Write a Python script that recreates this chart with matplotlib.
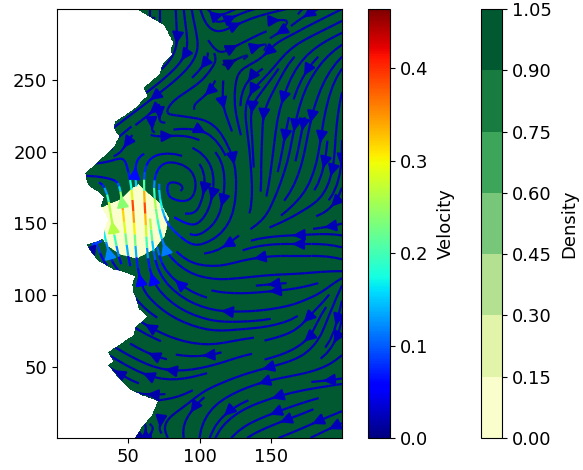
import numpy as np
import matplotlib
matplotlib.use("Agg")
import matplotlib.pyplot as plt
from matplotlib.cm import ScalarMappable
from matplotlib.colors import Normalize
from matplotlib.path import Path

# Velocity field, in hundredths, rows go from y=0 upwards
grid_x = [0, 20, 40, 60, 80, 100, 120, 140, 160, 180, 200]
grid_y = [0, 20, 40, 60, 80, 100, 120, 140, 160, 180, 200, 220, 240, 260, 280, 300]

u_rows = [
    [0, 0, 0, 0.5, 0.8, -0.3, -1.5, -2, -2, -2, -2],
    [0, 0, 0, -1, -1.5, -1.2, -2, -2.5, -2.5, -2.5, -2.5],
    [0, 0, -1.5, -2, -2, -2.5, -2.5, -2.5, -2.5, -2.5, -2.5],
    [0, 0, -2, -2, -2, -2, -2.5, -2.5, -2.5, -1.5, -1],
    [0, 0, -1.5, -2, -2, -2.5, -2.5, -2.5, -2.5, -1, -0.5],
    [0, 0, -1, -1.5, -2.2, -2.5, -2.5, -2.5, -2.5, -2.5, -0.5],
    [0, -1.5, -2, -1, -3, -2.5, -2.5, -2.5, -2.5, -2.5, -2],
    [0, -2, -5, -0.5, -6, -2.5, -2, -2.5, -2.5, -2.5, -2],
    [0, -2, -4, -2, -5, -1, -0.5, -0.3, -1.5, -2, -1],
    [0, -2, -3, 0, 2, 0, 0, 0.2, -1, -1, -0.5],
    [0, -2, -2, 3, 2.5, 2, 1, 0, -0.5, -0.5, 0],
    [0, 0, -2, -2, 2, 2.5, 1, 0, -0.5, -0.5, -0.2],
    [0, 0, 0, -2, -2, -2, 0.3, -1.5, -0.8, -1, -0.5],
    [0, 0, 0, 0, -1.5, -1.5, 0.3, -1.8, -1.2, -1.5, -1.5],
    [0, 0, 0, 0, 0, 0.5, 2, 2, -2, -2, -2],
    [0, 0, 0, 0, 0, 0.5, 2, 2, 2, -2, -2],
]
v_rows = [
    [0, 0, 0, 2, -2, -2.5, -1.8, -1, -0.8, -1, -1],
    [0, 0, 0, -0.5, -0.5, -2, -1.5, -1, -0.9, -1, -1],
    [0, 0, 1, 0.8, 0, -0.8, -1, -0.8, -0.4, -0.2, -0.3],
    [0, 0, 1.2, 1, 0.5, 0, -0.8, -0.5, -1, -1.5, -1.5],
    [0, 0, 1, 1.2, 1, 0.8, 0, -0.2, -0.8, -2.2, -2.5],
    [0, 0, 1, 2, 2, 1, 0.2, -0.2, -0.3, -1, -2.5],
    [0, 0.5, 2, 8, 3, 0.5, -0.5, -0.3, 0, 0, 0.5],
    [0, 0, 25, 30, 7, -1, -2, -0.5, 0, 0, 0.5],
    [0, 0, 30, 44, 2, -2, -2.5, -2, -1.5, -1, -1.5],
    [0, 0, 1, 10, 0, -2, -2.5, -2.5, -2.5, -2.5, -2],
    [0, 0, -1.5, 1, -0.2, -1.5, -2, -2.5, -2.5, -2.5, -2.5],
    [0, 0, -1.5, -1.5, 0.5, -0.2, -2.5, -2.5, -2.5, -2.5, -2.5],
    [0, 0, 0, -1.5, -1.5, -1, -2.5, -1.8, -2.5, -2.5, -2.5],
    [0, 0, 0, 0, -1.5, -2, 0.2, -1, -2, -2, -2],
    [0, 0, 0, 0, -2, -2, 1, 1, -1, -1, -1],
    [0, 0, 0, 0, -2, -2, 1, 0.5, 0.5, -1, -1],
]

# Outline of the density region (left edge, top to bottom)
edge_x = [56, 63, 70, 75, 78, 82, 80, 81, 75, 73, 72, 66, 61, 64, 60, 57, 50, 41, 40, 44, 41, 37, 32, 28, 20,
          22, 28, 33, 31, 36, 33, 33, 21, 25, 29, 40, 48, 55, 53, 54, 56, 58, 64, 58, 55, 54, 44, 36, 40, 36,
          42, 50, 60, 71, 69, 67, 60, 55]
edge_y = [300, 296, 292, 289, 284, 276, 272, 268, 262, 258, 254, 249, 245, 239, 236, 232, 227, 221, 217, 211,
          205, 200, 196, 192, 185, 177, 173, 169, 162, 153, 144, 139, 135, 129, 124, 118, 116, 113, 107, 102,
          96, 90, 85, 80, 77, 72, 65, 60, 53, 51, 44, 35, 30, 26, 21, 16, 8, 0]

# Outline of the low density patch
patch_x = [57, 65, 74, 79, 76, 69, 56, 44, 35, 30, 30, 30, 36, 44, 51]
patch_y = [178, 171, 163, 154, 141, 132, 125, 128, 134, 141, 150, 161, 164, 167, 174]

density_levels = [0.0, 0.15, 0.30, 0.45, 0.60, 0.75, 0.90, 1.05]
velocity_ticks = [0.0, 0.1, 0.2, 0.3, 0.4]

plt.rcParams["font.size"] = 13

u = np.array(u_rows) / 100
v = np.array(v_rows) / 100
speed = np.sqrt(u ** 2 + v ** 2)

# Density on a fine grid, blank outside the outline
xx, yy = np.meshgrid(np.arange(0, 200.5, 0.5), np.arange(0, 300.5, 0.5))
pts = np.column_stack([xx.ravel(), yy.ravel()])
region = Path(list(zip(edge_x + [205, 205], edge_y + [-5, 305])))
patch = Path(list(zip(patch_x, patch_y)))
density = np.ones(xx.shape)
density[patch.contains_points(pts).reshape(xx.shape)] = 0.0
density[~region.contains_points(pts).reshape(xx.shape)] = np.nan

W, H = 583, 470
fig = plt.figure(figsize=(W / 100, H / 100), dpi=100)
ax = fig.add_axes([57 / W, 1 - 438 / H, 285 / W, 429 / H])
cax1 = fig.add_axes([368 / W, 1 - 438 / H, 22 / W, 429 / H])
cax2 = fig.add_axes([481 / W, 1 - 438 / H, 21 / W, 429 / H])

cf = ax.contourf(xx, yy, density, levels=density_levels, cmap="YlGn")

norm = Normalize(0, 0.464)
st = ax.streamplot(np.array(grid_x, dtype=float), np.array(grid_y, dtype=float), u, v, color=speed, cmap="jet",
                   norm=norm, density=1.25, linewidth=1.6, arrowsize=1.7)

# Keep the stream lines inside the coloured region
clip = plt.Polygon(list(zip(edge_x + [205, 205], edge_y + [-5, 305])), transform=ax.transData)
st.lines.set_clip_path(clip)
for art in ax.patches:
    art.set_clip_path(clip)

ax.set_xlim(0, 200)
ax.set_ylim(0, 300)
ax.set_xticks([50, 100, 150])
ax.set_yticks([50, 100, 150, 200, 250])

cb1 = fig.colorbar(ScalarMappable(norm=norm, cmap="jet"), cax=cax1, ticks=velocity_ticks)
cb1.set_label("Velocity", labelpad=6)
cb2 = fig.colorbar(cf, cax=cax2, ticks=density_levels)
cb2.ax.set_yticklabels([f"{t:.2f}" for t in density_levels])
cb2.set_label("Density", labelpad=6)

fig.savefig("out.png", dpi=100)
